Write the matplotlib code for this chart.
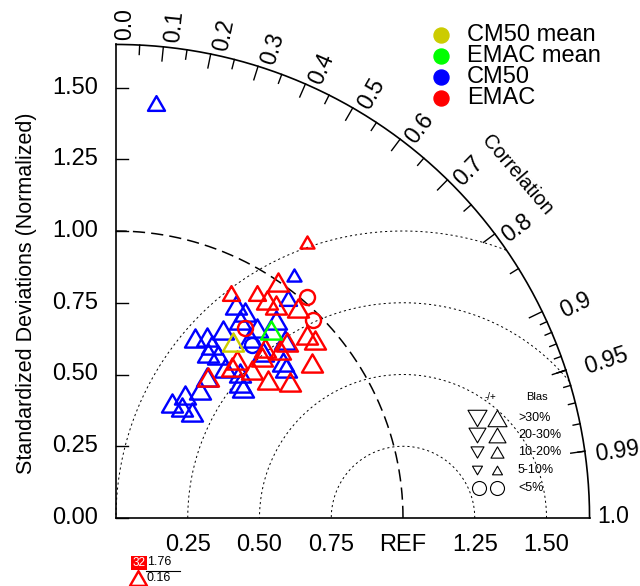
import numpy as np
import matplotlib
matplotlib.use("Agg")
import matplotlib.pyplot as plt
from matplotlib.path import Path

plt.rcParams['font.family'] = ['Liberation Sans', 'DejaVu Sans']

# ---------------- data (normalized SD, correlation, bias class) ----------------
# bias class: 4 = >30%, 3 = 20-30%, 2 = 10-20%, 1 = 5-10%, 0 = <5% ; all positive (+)
cm50_sd = [1.453, 1.050, 0.973, 0.852, 0.847, 0.887, 0.754, 0.706, 0.685, 0.689,
           0.658, 0.782, 0.824, 0.772, 0.855, 0.797, 0.790, 0.665, 0.638, 0.633,
           0.646, 0.585, 0.533, 0.446, 0.491, 0.450, 0.455, 0.767, 0.670, 0.814]
cm50_corr = [0.096, 0.591, 0.616, 0.491, 0.530, 0.628, 0.495, 0.449, 0.402, 0.485,
             0.488, 0.597, 0.596, 0.663, 0.689, 0.730, 0.750, 0.650, 0.677, 0.699,
             0.588, 0.543, 0.549, 0.437, 0.489, 0.511, 0.582, 0.618, 0.530, 0.531]
cm50_bias = [3, 2, 3, 4, 4, 4, 4, 4, 4, 4,
             4, 4, 4, 4, 4, 4, 4, 4, 4, 4,
             4, 4, 4, 4, 4, 4, 4, 0, 4, 4]

emac_sd = [1.170, 0.997, 0.925, 0.924, 0.928, 1.018, 0.968, 0.973, 0.922, 0.930,
           0.871, 0.855, 0.818, 0.788, 0.757, 0.715, 0.770, 0.700, 0.694, 0.663,
           0.587, 0.881, 0.800]
emac_corr = [0.569, 0.566, 0.531, 0.569, 0.601, 0.654, 0.655, 0.705, 0.722, 0.745,
             0.784, 0.697, 0.699, 0.659, 0.672, 0.740, 0.788, 0.677, 0.608, 0.609,
             0.547, 0.455, 0.562]
emac_bias = [2, 4, 3, 4, 4, 0, 4, 0, 4, 4,
             4, 4, 4, 4, 4, 4, 4, 4, 4, 4,
             4, 3, 0]

mean_names = ["CM50 mean", "EMAC mean"]
mean_sd = [0.736, 0.849]
mean_corr = [0.554, 0.636]
mean_bias = [4, 4]

# point outside the plotted range
out_id = "32"
out_sd = 1.76
out_corr = 0.16

legend_names = ["CM50 mean", "EMAC mean", "CM50", "EMAC"]
legend_colors = ["#CCCC00", "#00FF00", "#0000FF", "#FF0000"]

corr_ticks = [0.0, 0.1, 0.2, 0.3, 0.4, 0.5, 0.6, 0.7, 0.8, 0.9, 0.95, 0.99, 1.0]
corr_labels = ["0.0", "0.1", "0.2", "0.3", "0.4", "0.5", "0.6", "0.7", "0.8", "0.9", "0.95", "0.99", "1.0"]
sd_ticks = [0.0, 0.25, 0.5, 0.75, 1.0, 1.25, 1.5]
sd_labels = ["0.00", "0.25", "0.50", "0.75", "1.00", "1.25", "1.50"]
x_labels = ["0.25", "0.50", "0.75", "REF", "1.25", "1.50"]
rms_levels = [0.25, 0.5, 0.75, 1.0]
bias_labels = [">30%", "20-30%", "10-20%", "5-10%", "<5%"]

# ---------------- layout ----------------
W, H = 640, 586
PX = 287.0          # pixels per unit SD
OX, OY = 116, 518   # origin in pixels
MAXSD = 1.65

fig = plt.figure(figsize=(W / 100, H / 100), dpi=100)
ax = fig.add_axes([0, 0, 1, 1])
ax.set_xlim(-OX / PX, (W - OX) / PX)
ax.set_ylim(-(H - OY) / PX, OY / PX)
ax.axis('off')


def P(px, py):
    return (px - OX) / PX, (OY - py) / PX


def pt(pixels):
    return pixels * 72.0 / 100.0


TRI_UP = Path([(-1, -0.866), (1, -0.866), (0, 0.866), (-1, -0.866)],
              [Path.MOVETO, Path.LINETO, Path.LINETO, Path.CLOSEPOLY])
TRI_DN = Path([(-1, 0.866), (1, 0.866), (0, -0.866), (-1, 0.866)],
              [Path.MOVETO, Path.LINETO, Path.LINETO, Path.CLOSEPOLY])
SIZE_PX = {4: 21, 3: 17, 2: 14, 1: 10, 0: 15}

# outer arc and axes
th = np.linspace(0, np.pi / 2, 400)
ax.plot(MAXSD * np.cos(th), MAXSD * np.sin(th), color='black', lw=1.2)
ax.plot([0, MAXSD], [0, 0], color='black', lw=1.2)
ax.plot([0, 0], [0, MAXSD], color='black', lw=1.2)

# SD = 1 dashed arc
ax.plot(np.cos(th), np.sin(th), color='black', lw=1.1, dashes=(8, 4))

# RMS circles around REF
phi = np.linspace(0, np.pi, 800)
for r in rms_levels:
    xs = 1 + r * np.cos(phi)
    ys = r * np.sin(phi)
    m = (xs ** 2 + ys ** 2 <= MAXSD ** 2) & (xs >= 0)
    ax.plot(np.where(m, xs, np.nan), np.where(m, ys, np.nan), color='black',
            lw=0.7, dashes=(2.2, 3.0))

# SD ticks (inward) and labels
for v, lab in zip(sd_ticks, sd_labels):
    ax.plot([0, 12 / PX], [v, v], color='black', lw=1.0)
    ax.text(-18 / PX, v, lab, ha='right', va='center', fontsize=17)
for v, lab in zip(sd_ticks[1:], x_labels):
    ax.text(v, -27 / PX, lab, ha='center', va='center', fontsize=17)

# correlation ticks
big = np.arange(0.1, 0.91, 0.1)
med = np.arange(0.05, 0.96, 0.1)
sml = np.arange(0.91, 0.995, 0.01)
for vals, frac in ((big, 0.97), (med, 0.98), (sml, 0.985)):
    for c in vals:
        a = np.arccos(c)
        ax.plot([MAXSD * np.cos(a), frac * MAXSD * np.cos(a)],
                [MAXSD * np.sin(a), frac * MAXSD * np.sin(a)], color='black', lw=1.0)
for c in (0.95, 0.99):
    a = np.arccos(c)
    ax.plot([MAXSD * np.cos(a), 0.97 * MAXSD * np.cos(a)],
            [MAXSD * np.sin(a), 0.97 * MAXSD * np.sin(a)], color='black', lw=1.0)

# correlation labels (radial gap / side offset in pixels)
extra_gap = {"0.9": 12, "0.95": 14, "0.99": 5, "1.0": 3}
side_off = {"1.0": -2, "0.99": 5, "0.95": 4}
for c, lab in zip(corr_ticks, corr_labels):
    a = np.arccos(c)
    rr = MAXSD + (5 + extra_gap.get(lab, 0)) / PX
    d = side_off.get(lab, 9) / (rr * PX)
    ax.text(rr * np.cos(a - d), rr * np.sin(a - d), lab, rotation=np.degrees(a),
            rotation_mode='anchor', ha='left', va='center', fontsize=16.5)
cx, cy = P(517, 175)
ax.text(cx, cy, "Correlation", rotation=-49.5, rotation_mode='anchor',
        ha='center', va='center', fontsize=14.5)

ax.text(*P(27, 293), "Standardized Deviations (Normalized)", rotation=90,
        ha='center', va='center', fontsize=15.5)


# data points
def draw(sds, corrs, cats, color, z=3):
    sds = np.asarray(sds, float)
    corrs = np.asarray(corrs, float)
    xs = sds * corrs
    ys = sds * np.sqrt(1 - corrs ** 2)
    for x, y, c in zip(xs, ys, cats):
        if c == 0:
            ax.plot(x, y, marker='o', ms=pt(SIZE_PX[0]), mfc='none', mec=color,
                    mew=pt(2.4), zorder=z)
        else:
            ax.plot(x, y, marker=TRI_UP, ms=pt(SIZE_PX[c]), mfc='none', mec=color,
                    mew=pt(2.4), zorder=z)


draw(cm50_sd, cm50_corr, cm50_bias, '#0000FF')
draw(emac_sd, emac_corr, emac_bias, '#FF0000')
draw(mean_sd[:1], mean_corr[:1], mean_bias[:1], '#CCCC00', z=5)
draw(mean_sd[1:], mean_corr[1:], mean_bias[1:], '#00FF00', z=5)

# legend (top right)
for i, (name, col) in enumerate(zip(legend_names, legend_colors)):
    ly = 35 + 21 * i
    ax.plot(*P(441, ly), marker='o', ms=pt(15), color=col, mec=col, ls='none')
    ax.text(*P(467, ly), name, ha='left', va='center', fontsize=17)

# bias legend
ax.text(*P(490, 397), "-/+", ha='center', va='center', fontsize=7)
ax.text(*P(537, 397), "Blas", ha='center', va='center', fontsize=8)
bias_rows_y = [418, 435, 452, 470, 488]
bias_w = [19, 17, 13, 10, 14]
for yy, w, lab, k in zip(bias_rows_y, bias_w, bias_labels, range(5)):
    if k < 4:
        ax.plot(*P(477, yy), marker=TRI_DN, ms=pt(w), mfc='none', mec='black', mew=0.8)
        ax.plot(*P(497, yy), marker=TRI_UP, ms=pt(w), mfc='none', mec='black', mew=0.8)
    else:
        ax.plot(*P(479, yy), marker='o', ms=pt(w), mfc='none', mec='black', mew=0.8)
        ax.plot(*P(497, yy), marker='o', ms=pt(w), mfc='none', mec='black', mew=0.8)
    ax.text(*P(518, yy), lab, ha='left', va='center', fontsize=9)

# out-of-range annotation
bx, by = P(131, 556)
bx2, by2 = P(147, 570)
ax.add_patch(plt.Rectangle((bx, by2), bx2 - bx, by - by2, color='#FF0000', lw=0))
ax.text((bx + bx2) / 2, (by + by2) / 2, out_id, color='white', ha='center', va='center', fontsize=8.5)
ax.text(*P(147, 562), f"{out_sd:.2f}", ha='left', va='center', fontsize=9)
ax.plot([P(146, 571)[0], P(180, 571)[0]], [P(146, 571)[1]] * 2, color='black', lw=0.8)
ax.text(*P(147, 578), f"{out_corr:.2f}", ha='left', va='center', fontsize=9)
ax.plot(*P(138, 578), marker=TRI_UP, ms=pt(17), mfc='none', mec='#FF0000', mew=pt(2.4))

fig.savefig("out.png", dpi=100)
